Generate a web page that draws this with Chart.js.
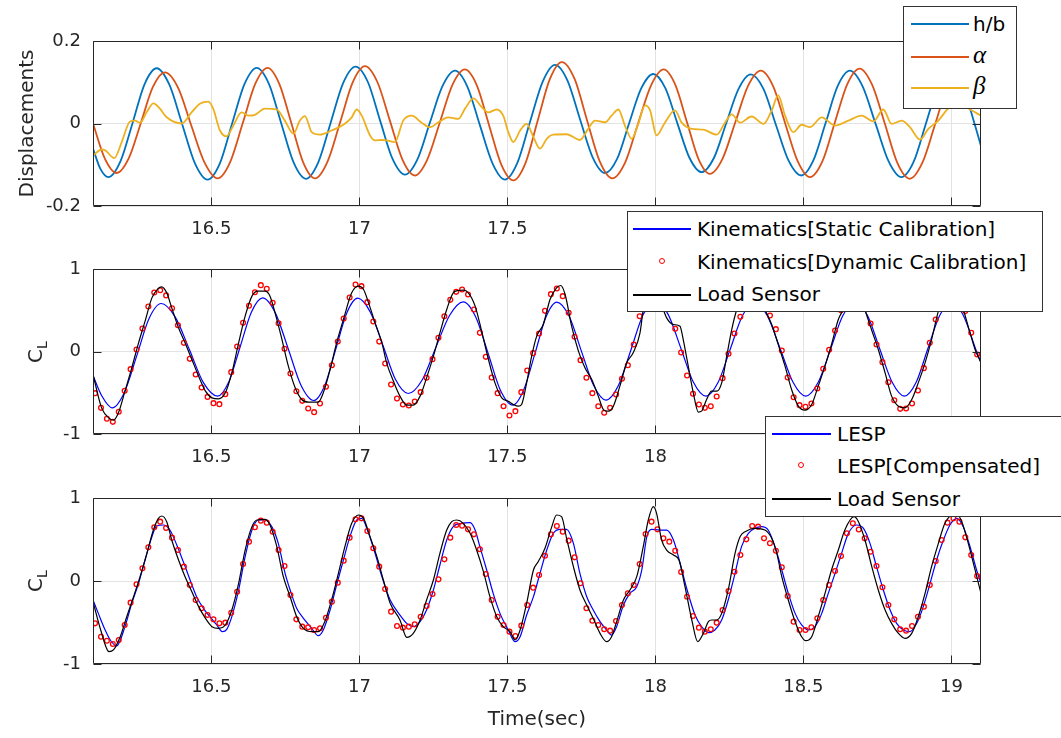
<!DOCTYPE html>
<html>
<head>
<meta charset="utf-8">
<script src="https://cdn.jsdelivr.net/npm/chart.js@4.4.0/dist/chart.umd.min.js"></script>
<style>
  body { margin: 0; background: #fff; }
  #wrap { position: relative; width: 1061px; height: 738px; overflow: hidden; font-family: 'DejaVu Sans', sans-serif; }
  .panel { position: absolute; left: 0; width: 1061px; }
  .legend { position: absolute; background: #fff; border: 1px solid #333; box-sizing: border-box; z-index: 5; }
  .sw { position: absolute; height: 2px; }
  .mk { position: absolute; width: 4px; height: 4px; border: 1.3px solid #f00; border-radius: 50%; }
  .lt { position: absolute; font-size: 20px; line-height: 24px; color: #000; white-space: nowrap; }
  .greek { font-family: 'Liberation Serif', 'DejaVu Serif', serif; font-style: italic; font-size: 25px; }
  .cl { position: absolute; width: 44px; height: 30px; line-height: 30px; text-align: center; font-size: 20px; color: #262626; transform: rotate(-90deg); z-index: 2; }
  .cl sub { font-size: 14px; vertical-align: -5px; }
</style>
</head>
<body>
<div id="wrap">
  <div class="panel" style="top:0;height:245px;"><canvas id="topChart"></canvas></div>
  <div class="panel" style="top:245px;height:230px;"><canvas id="midChart"></canvas></div>
  <div class="panel" style="top:475px;height:263px;"><canvas id="botChart"></canvas></div>

  <div class="cl" style="left:13px;top:337px;">C<sub>L</sub></div>
  <div class="cl" style="left:13px;top:566px;">C<sub>L</sub></div>

  <div class="legend" style="left:903px;top:6px;width:114px;height:103px;">
    <div class="sw" style="left:7px;top:16px;width:58px;background:#0072BD;"></div>
    <div class="lt" style="left:69px;top:5px;">h/b</div>
    <div class="sw" style="left:7px;top:49px;width:58px;background:#D95319;"></div>
    <div class="lt greek" style="left:69px;top:36px;">α</div>
    <div class="sw" style="left:7px;top:80px;width:58px;background:#EDB120;"></div>
    <div class="lt greek" style="left:69px;top:67px;">β</div>
  </div>

  <div class="legend" style="left:627px;top:211px;width:416px;height:101px;">
    <div class="sw" style="left:5px;top:16px;width:58px;height:1.5px;background:#0000ff;"></div>
    <div class="lt" style="left:69px;top:5px;">Kinematics[Static Calibration]</div>
    <div class="mk" style="left:31px;top:46px;"></div>
    <div class="lt" style="left:69px;top:38px;">Kinematics[Dynamic Calibration]</div>
    <div class="sw" style="left:5px;top:82px;width:58px;height:1.5px;background:#000;"></div>
    <div class="lt" style="left:69px;top:70px;">Load Sensor</div>
  </div>

  <div class="legend" style="left:765px;top:416px;width:300px;height:101px;">
    <div class="sw" style="left:6px;top:16px;width:59px;height:1.5px;background:#0000ff;"></div>
    <div class="lt" style="left:71px;top:5px;">LESP</div>
    <div class="mk" style="left:32px;top:45px;"></div>
    <div class="lt" style="left:71px;top:37px;">LESP[Compensated]</div>
    <div class="sw" style="left:6px;top:81px;width:59px;height:1.5px;background:#000;"></div>
    <div class="lt" style="left:71px;top:70px;">Load Sensor</div>
  </div>
</div>

<script>
// axis setup
const X_MIN = 16.1, X_MAX = 19.1;
const XTICKS = [16.5, 17, 17.5, 18, 18.5, 19];
const DISP_TICKS = [-0.2, 0, 0.2];
const CL_TICKS = [-1, 0, 1];

// top panel: displacements
const hbT = [16.100,16.125,16.152,16.193,16.234,16.274,16.315,16.358,16.401,16.444,16.487,16.529,16.570,16.612,16.653,16.695,16.736,16.778,16.819,16.861,16.903,16.945,16.987,17.029,17.070,17.112,17.154,17.196,17.238,17.281,17.323,17.365,17.407,17.450,17.492,17.534,17.576,17.619,17.661,17.703,17.745,17.788,17.830,17.871,17.911,17.952,17.993,18.034,18.074,18.115,18.156,18.198,18.239,18.281,18.322,18.365,18.407,18.450,18.493,18.534,18.575,18.616,18.657,18.700,18.744,18.788,18.831,18.873,18.914,18.956,18.997,19.037,19.078,19.100];
const hbV = [-0.061,-0.110,-0.130,-0.091,0.002,0.095,0.134,0.094,-0.001,-0.096,-0.136,-0.096,0.000,0.096,0.135,0.095,0.000,-0.095,-0.134,-0.094,0.002,0.098,0.138,0.100,0.007,-0.086,-0.124,-0.087,0.002,0.091,0.128,0.089,-0.004,-0.097,-0.136,-0.095,0.003,0.101,0.142,0.104,0.011,-0.082,-0.120,-0.085,0.000,0.085,0.120,0.085,0.001,-0.083,-0.118,-0.083,0.000,0.084,0.119,0.084,-0.003,-0.090,-0.126,-0.089,0.001,0.091,0.128,0.090,-0.001,-0.092,-0.130,-0.092,0.000,0.092,0.130,0.093,0.000,-0.055];

const alphaT = [16.100,16.140,16.180,16.221,16.262,16.302,16.343,16.388,16.432,16.477,16.521,16.563,16.606,16.648,16.690,16.730,16.770,16.810,16.850,16.892,16.935,16.977,17.019,17.061,17.103,17.145,17.187,17.229,17.272,17.314,17.356,17.397,17.438,17.479,17.520,17.561,17.602,17.643,17.684,17.727,17.769,17.812,17.854,17.898,17.941,17.985,18.028,18.067,18.106,18.145,18.184,18.227,18.270,18.313,18.356,18.398,18.439,18.481,18.522,18.564,18.606,18.648,18.690,18.732,18.775,18.817,18.859,18.902,18.945,18.987,19.030,19.065,19.100];
const alphaV = [0.000,-0.085,-0.120,-0.084,0.002,0.088,0.124,0.086,-0.005,-0.095,-0.133,-0.094,0.001,0.096,0.135,0.095,0.001,-0.094,-0.133,-0.093,0.003,0.099,0.139,0.100,0.007,-0.087,-0.126,-0.088,0.003,0.093,0.131,0.092,-0.004,-0.099,-0.138,-0.096,0.006,0.107,0.149,0.108,0.008,-0.092,-0.133,-0.094,-0.001,0.092,0.131,0.094,0.005,-0.085,-0.122,-0.085,0.003,0.091,0.128,0.090,-0.001,-0.092,-0.130,-0.092,0.002,0.095,0.133,0.094,0.000,-0.095,-0.134,-0.095,-0.002,0.091,0.130,0.100,0.035];

const betaT = [16.100,16.129,16.141,16.172,16.197,16.225,16.242,16.259,16.281,16.304,16.326,16.349,16.400,16.433,16.461,16.490,16.506,16.529,16.551,16.574,16.602,16.625,16.647,16.681,16.720,16.748,16.777,16.799,16.816,16.839,16.867,16.906,16.946,16.974,16.991,17.008,17.036,17.053,17.075,17.092,17.120,17.148,17.177,17.210,17.239,17.267,17.300,17.334,17.357,17.385,17.413,17.436,17.464,17.486,17.503,17.520,17.543,17.565,17.588,17.610,17.633,17.655,17.700,17.745,17.773,17.796,17.830,17.852,17.875,17.897,17.920,17.942,17.965,17.982,18.004,18.032,18.066,18.089,18.123,18.162,18.207,18.235,18.258,18.286,18.325,18.365,18.393,18.415,18.438,18.466,18.494,18.522,18.562,18.607,18.652,18.697,18.736,18.770,18.798,18.832,18.860,18.894,18.922,18.956,18.990,19.023,19.068,19.100];
const betaV = [-0.078,-0.063,-0.065,-0.084,-0.045,0.005,0.007,0.002,0.027,0.049,0.036,0.015,0.000,0.027,0.048,0.053,0.036,-0.017,-0.031,-0.005,0.027,0.019,0.021,0.036,0.034,0.007,-0.025,0.007,0.018,-0.021,-0.027,-0.017,-0.003,0.015,0.034,0.019,-0.029,-0.041,-0.040,-0.041,-0.045,0.007,0.019,0.002,-0.009,0.003,0.015,0.011,0.036,0.061,0.040,0.027,0.034,0.019,-0.021,-0.045,-0.017,-0.001,-0.033,-0.061,-0.037,-0.027,-0.026,-0.040,-0.013,0.007,0.003,0.019,0.034,-0.005,-0.037,-0.001,0.044,0.032,-0.029,0.002,0.032,0.002,-0.013,-0.015,-0.027,0.002,0.022,0.002,0.017,-0.001,0.032,0.068,0.019,-0.021,-0.003,-0.009,0.015,-0.005,0.007,0.019,0.005,0.034,-0.001,0.007,-0.009,-0.039,-0.013,0.007,0.037,0.048,0.032,0.019];

// middle panel: kinematics
const kinT = [16.100,16.130,16.165,16.206,16.248,16.289,16.330,16.378,16.426,16.473,16.521,16.559,16.597,16.635,16.673,16.716,16.760,16.803,16.846,16.883,16.920,16.957,16.994,17.037,17.080,17.122,17.165,17.212,17.258,17.305,17.351,17.393,17.435,17.476,17.518,17.555,17.593,17.630,17.667,17.709,17.750,17.792,17.833,17.875,17.917,17.958,18.000,18.043,18.086,18.128,18.171,18.212,18.253,18.294,18.335,18.378,18.422,18.465,18.508,18.550,18.592,18.633,18.675,18.717,18.758,18.800,18.841,18.881,18.920,18.960,19.000,19.040,19.085,19.100];
const kinV = [-0.290,-0.540,-0.683,-0.497,-0.050,0.397,0.582,0.417,0.020,-0.377,-0.541,-0.367,0.055,0.476,0.650,0.468,0.028,-0.412,-0.594,-0.412,0.026,0.464,0.646,0.477,0.069,-0.340,-0.509,-0.346,0.047,0.439,0.602,0.419,-0.024,-0.467,-0.650,-0.467,-0.026,0.415,0.598,0.424,0.004,-0.416,-0.590,-0.413,0.015,0.443,0.620,0.450,0.040,-0.370,-0.541,-0.373,0.030,0.433,0.600,0.433,0.030,-0.373,-0.541,-0.373,0.030,0.433,0.600,0.433,0.030,-0.373,-0.541,-0.373,0.030,0.433,0.600,0.440,0.000,-0.137];

const MARK_T0 = 16.107, MARK_DT = 0.02;
const kinDynV = [-0.505,-0.683,-0.816,-0.853,-0.731,-0.477,-0.214,0.024,0.279,0.545,0.715,0.743,0.680,0.525,0.319,0.105,-0.089,-0.279,-0.436,-0.550,-0.626,-0.638,-0.517,-0.250,0.061,0.347,0.554,0.719,0.804,0.760,0.590,0.343,0.032,-0.267,-0.481,-0.598,-0.691,-0.735,-0.630,-0.428,-0.166,0.121,0.400,0.655,0.812,0.792,0.598,0.364,0.120,-0.145,-0.400,-0.570,-0.642,-0.655,-0.606,-0.493,-0.319,-0.093,0.166,0.428,0.626,0.723,0.752,0.691,0.509,0.226,-0.065,-0.315,-0.505,-0.663,-0.776,-0.723,-0.493,-0.230,-0.020,0.218,0.493,0.695,0.764,0.671,0.469,0.178,-0.105,-0.319,-0.505,-0.663,-0.743,-0.683,-0.521,-0.331,-0.166,0.085,0.428,0.620,0.720,0.760,0.700,0.550,0.275,-0.012,-0.290,-0.513,-0.642,-0.683,-0.663,-0.545,-0.323,-0.028,0.218,0.420,0.600,0.720,0.740,0.620,0.436,0.271,0.012,-0.315,-0.554,-0.650,-0.671,-0.630,-0.448,-0.210,0.020,0.255,0.500,0.650,0.750,0.720,0.560,0.339,0.085,-0.129,-0.372,-0.590,-0.695,-0.691,-0.630,-0.473,-0.202,0.105,0.388,0.600,0.720,0.750,0.680,0.490,0.226,-0.036];

const loadMT = [16.100,16.129,16.157,16.169,16.186,16.208,16.231,16.254,16.276,16.299,16.319,16.332,16.349,16.366,16.389,16.411,16.434,16.457,16.480,16.502,16.524,16.547,16.569,16.592,16.614,16.637,16.657,16.681,16.698,16.715,16.737,16.760,16.783,16.805,16.828,16.861,16.878,16.901,16.923,16.946,16.974,16.997,17.014,17.031,17.053,17.076,17.092,17.115,17.137,17.160,17.182,17.205,17.227,17.250,17.272,17.295,17.317,17.334,17.351,17.368,17.391,17.413,17.436,17.458,17.481,17.503,17.520,17.537,17.548,17.565,17.582,17.599,17.621,17.644,17.666,17.680,17.695,17.717,17.740,17.762,17.785,17.807,17.826,17.841,17.858,17.880,17.903,17.925,17.948,17.959,17.975,17.995,18.012,18.027,18.038,18.061,18.083,18.094,18.111,18.128,18.145,18.156,18.173,18.190,18.207,18.224,18.241,18.258,18.275,18.300,18.325,18.350,18.370,18.393,18.415,18.438,18.460,18.483,18.505,18.528,18.550,18.573,18.595,18.618,18.635,18.660,18.680,18.695,18.708,18.730,18.753,18.776,18.798,18.821,18.843,18.866,18.888,18.911,18.933,18.956,18.980,19.000,19.020,19.040,19.063,19.080,19.100];
const loadMV = [-0.279,-0.683,-0.816,-0.832,-0.743,-0.481,-0.198,0.105,0.368,0.650,0.760,0.784,0.711,0.529,0.287,0.105,-0.097,-0.299,-0.481,-0.562,-0.574,-0.501,-0.259,0.105,0.428,0.671,0.731,0.731,0.671,0.469,0.166,-0.178,-0.440,-0.582,-0.614,-0.614,-0.501,-0.218,0.105,0.388,0.711,0.792,0.752,0.590,0.347,0.105,-0.137,-0.360,-0.541,-0.650,-0.650,-0.541,-0.319,-0.057,0.226,0.509,0.711,0.739,0.743,0.711,0.550,0.246,-0.097,-0.380,-0.562,-0.602,-0.642,-0.663,-0.642,-0.380,-0.057,0.186,0.327,0.630,0.772,0.800,0.691,0.307,0.004,-0.198,-0.339,-0.541,-0.711,-0.723,-0.663,-0.420,-0.137,-0.016,0.226,0.509,0.720,0.800,0.700,0.509,0.408,0.327,0.307,0.145,-0.178,-0.501,-0.735,-0.723,-0.582,-0.481,-0.481,-0.380,-0.057,0.267,0.509,0.700,0.760,0.680,0.509,0.327,0.085,-0.178,-0.461,-0.663,-0.711,-0.642,-0.420,-0.178,0.085,0.388,0.509,0.720,0.760,0.680,0.509,0.267,0.024,-0.259,-0.541,-0.663,-0.683,-0.582,-0.380,-0.137,0.145,0.489,0.720,0.780,0.700,0.509,0.226,0.024,-0.137];

// bottom panel: LESP
const lespT = [16.100,16.118,16.141,16.160,16.180,16.208,16.231,16.254,16.276,16.299,16.315,16.338,16.360,16.383,16.405,16.428,16.450,16.473,16.495,16.518,16.537,16.552,16.569,16.592,16.614,16.637,16.659,16.681,16.704,16.726,16.749,16.766,16.788,16.811,16.839,16.861,16.878,16.901,16.923,16.946,16.968,16.991,17.008,17.031,17.053,17.076,17.104,17.137,17.160,17.182,17.205,17.227,17.250,17.272,17.295,17.317,17.345,17.374,17.391,17.407,17.430,17.452,17.475,17.503,17.526,17.543,17.565,17.588,17.610,17.633,17.655,17.678,17.700,17.723,17.745,17.768,17.790,17.813,17.835,17.852,17.869,17.892,17.914,17.937,17.954,17.971,17.987,18.015,18.038,18.061,18.083,18.105,18.134,18.156,18.179,18.201,18.224,18.246,18.269,18.291,18.314,18.336,18.359,18.381,18.404,18.427,18.449,18.472,18.494,18.517,18.539,18.562,18.584,18.607,18.629,18.652,18.680,18.703,18.725,18.747,18.770,18.793,18.815,18.838,18.860,18.883,18.905,18.928,18.950,18.973,18.995,19.018,19.040,19.063,19.085,19.100];
const lespV = [-0.229,-0.390,-0.590,-0.720,-0.783,-0.550,-0.269,-0.028,0.253,0.534,0.663,0.675,0.614,0.434,0.233,0.012,-0.189,-0.329,-0.430,-0.530,-0.610,-0.582,-0.430,-0.108,0.293,0.614,0.735,0.735,0.655,0.454,0.092,-0.108,-0.329,-0.450,-0.570,-0.659,-0.590,-0.349,-0.048,0.253,0.534,0.735,0.755,0.574,0.333,0.052,-0.229,-0.410,-0.510,-0.550,-0.490,-0.349,-0.108,0.193,0.494,0.655,0.695,0.703,0.614,0.414,0.133,-0.149,-0.390,-0.590,-0.731,-0.671,-0.410,-0.189,0.092,0.373,0.574,0.622,0.622,0.454,0.092,-0.189,-0.349,-0.490,-0.590,-0.651,-0.550,-0.289,-0.149,-0.068,0.133,0.534,0.622,0.614,0.614,0.494,0.220,-0.080,-0.410,-0.550,-0.622,-0.590,-0.470,-0.229,0.092,0.414,0.574,0.635,0.655,0.614,0.414,0.133,-0.149,-0.390,-0.530,-0.590,-0.550,-0.390,-0.149,0.092,0.333,0.574,0.675,0.635,0.454,0.173,-0.108,-0.349,-0.510,-0.590,-0.610,-0.510,-0.309,-0.028,0.253,0.494,0.675,0.755,0.655,0.414,0.133,-0.028];

const lespCompV = [-0.510,-0.671,-0.719,-0.759,-0.711,-0.530,-0.261,-0.040,0.153,0.406,0.647,0.715,0.639,0.522,0.373,0.173,-0.048,-0.229,-0.329,-0.410,-0.462,-0.510,-0.502,-0.382,-0.129,0.205,0.474,0.647,0.727,0.703,0.594,0.373,0.181,-0.169,-0.462,-0.550,-0.558,-0.590,-0.570,-0.442,-0.249,-0.020,0.245,0.522,0.743,0.755,0.602,0.394,0.173,-0.096,-0.369,-0.542,-0.562,-0.550,-0.522,-0.430,-0.301,-0.157,0.020,0.261,0.522,0.675,0.667,0.622,0.562,0.382,0.084,-0.229,-0.430,-0.530,-0.610,-0.663,-0.538,-0.289,-0.080,0.072,0.305,0.562,0.663,0.594,0.486,0.285,-0.028,-0.329,-0.478,-0.530,-0.582,-0.598,-0.482,-0.289,-0.149,-0.048,0.205,0.566,0.715,0.622,0.514,0.474,0.365,0.108,-0.189,-0.422,-0.562,-0.610,-0.582,-0.502,-0.349,-0.120,0.112,0.313,0.502,0.663,0.655,0.514,0.454,0.365,0.165,-0.181,-0.490,-0.590,-0.590,-0.558,-0.450,-0.229,-0.048,0.120,0.300,0.574,0.695,0.620,0.514,0.353,0.181,-0.076,-0.289,-0.462,-0.582,-0.598,-0.542,-0.430,-0.309,-0.048,0.241,0.494,0.703,0.755,0.715,0.526,0.313,0.060];

const loadBT = [16.100,16.126,16.154,16.169,16.192,16.214,16.237,16.259,16.282,16.304,16.321,16.332,16.349,16.366,16.389,16.411,16.434,16.457,16.480,16.502,16.524,16.547,16.569,16.592,16.614,16.637,16.654,16.681,16.698,16.721,16.743,16.766,16.788,16.811,16.839,16.861,16.883,16.906,16.929,16.951,16.974,16.997,17.014,17.036,17.059,17.081,17.104,17.137,17.160,17.182,17.205,17.227,17.250,17.272,17.295,17.312,17.329,17.351,17.374,17.396,17.419,17.441,17.464,17.486,17.509,17.526,17.543,17.565,17.588,17.604,17.627,17.650,17.666,17.683,17.700,17.723,17.745,17.768,17.790,17.813,17.835,17.852,17.869,17.892,17.914,17.937,17.959,17.976,17.993,18.004,18.021,18.038,18.061,18.080,18.100,18.123,18.143,18.162,18.179,18.190,18.207,18.224,18.246,18.269,18.286,18.303,18.336,18.370,18.393,18.410,18.427,18.449,18.472,18.494,18.508,18.528,18.550,18.573,18.595,18.618,18.640,18.671,18.686,18.708,18.731,18.753,18.776,18.798,18.821,18.843,18.866,18.888,18.911,18.933,18.956,18.978,19.001,19.018,19.035,19.057,19.080,19.100];
const loadBV = [-0.250,-0.590,-0.851,-0.831,-0.671,-0.430,-0.189,0.052,0.333,0.614,0.755,0.783,0.715,0.494,0.253,0.052,-0.129,-0.309,-0.450,-0.550,-0.570,-0.530,-0.349,-0.028,0.373,0.655,0.735,0.743,0.675,0.414,0.052,-0.189,-0.430,-0.570,-0.610,-0.610,-0.490,-0.229,0.092,0.414,0.695,0.795,0.755,0.534,0.293,0.012,-0.269,-0.470,-0.679,-0.631,-0.470,-0.229,0.012,0.333,0.614,0.715,0.735,0.695,0.574,0.373,0.112,-0.189,-0.430,-0.550,-0.610,-0.711,-0.590,-0.269,0.133,0.233,0.394,0.655,0.795,0.775,0.514,0.173,-0.108,-0.289,-0.450,-0.631,-0.731,-0.671,-0.490,-0.229,-0.108,0.052,0.414,0.735,0.896,0.815,0.494,0.373,0.313,0.250,-0.068,-0.470,-0.731,-0.631,-0.490,-0.470,-0.470,-0.390,-0.108,0.333,0.534,0.594,0.635,0.614,0.514,0.333,0.052,-0.229,-0.490,-0.671,-0.719,-0.671,-0.430,-0.149,0.133,0.373,0.614,0.775,0.715,0.494,0.173,-0.108,-0.349,-0.510,-0.631,-0.691,-0.631,-0.430,-0.149,0.173,0.454,0.695,0.795,0.807,0.715,0.454,0.133,-0.149];

// styling
const TXT = '#262626';
const GRID = '#e3e3e3';
const TICK_LEN = 8;
const TICK_FONT = { family: 'DejaVu Sans', size: 18 };
const TITLE_FONT = { family: 'DejaVu Sans', size: 20 };

function pts(ts, vs) {
    return ts.map((t, i) => ({ x: t, y: vs[i] }));
}

function markerPts(vs) {
    return vs.map((v, i) => ({ x: MARK_T0 + i * MARK_DT, y: v }));
}

// MATLAB-like box with inward ticks
const boxPlugin = {
    id: 'matlabBox',
    afterDatasetsDraw(chart) {
        const { ctx, chartArea: a, scales } = chart;
        const L = Math.round(a.left) + 0.5, R = Math.round(a.right) - 0.5;
        const T = Math.round(a.top) + 0.5, B = Math.round(a.bottom) - 0.5;
        ctx.save();
        ctx.strokeStyle = TXT;
        ctx.lineWidth = 1;
        ctx.beginPath();
        XTICKS.forEach(v => {
            const px = Math.round(scales.x.getPixelForValue(v)) + 0.5;
            ctx.moveTo(px, B); ctx.lineTo(px, B - TICK_LEN);
            ctx.moveTo(px, T); ctx.lineTo(px, T + TICK_LEN);
        });
        scales.y.ticks.forEach(t => {
            const py = Math.round(scales.y.getPixelForValue(t.value)) + 0.5;
            ctx.moveTo(L, py); ctx.lineTo(L + TICK_LEN, py);
            ctx.moveTo(R, py); ctx.lineTo(R - TICK_LEN, py);
        });
        ctx.rect(L, T, R - L, B - T);
        ctx.stroke();
        ctx.restore();
    }
};

function makeChart(id, datasets, yTicks, padTop, xHeight, yTitle, xTitle) {
    return new Chart(document.getElementById(id), {
        type: 'line',
        data: { datasets: datasets },
        options: {
            responsive: true,
            maintainAspectRatio: false,
            animation: false,
            events: [],
            layout: { padding: { top: padTop, right: 80, left: 0, bottom: 0 } },
            elements: {
                point: { radius: 0 },
                line: { cubicInterpolationMode: 'monotone', borderWidth: 1.2 }
            },
            plugins: {
                legend: { display: false },
                tooltip: { enabled: false }
            },
            scales: {
                x: {
                    type: 'linear',
                    min: X_MIN,
                    max: X_MAX,
                    afterBuildTicks: s => { s.ticks = XTICKS.map(v => ({ value: v })); },
                    afterFit: s => { s.height = xHeight; },
                    grid: { color: GRID, drawTicks: false },
                    border: { display: false },
                    ticks: { padding: 13, color: TXT, font: TICK_FONT, maxRotation: 0, autoSkip: false, callback: v => String(v) },
                    title: xTitle
                        ? { display: true, text: xTitle, color: TXT, font: TITLE_FONT, padding: { top: 0, bottom: 6 } }
                        : { display: false }
                },
                y: {
                    type: 'linear',
                    min: yTicks[0],
                    max: yTicks[yTicks.length - 1],
                    afterBuildTicks: s => { s.ticks = yTicks.map(v => ({ value: v })); },
                    afterFit: s => { s.width = 93; },
                    grid: { color: GRID, drawTicks: false },
                    border: { display: false },
                    ticks: { padding: 12, color: TXT, font: TICK_FONT, callback: v => String(v) },
                    title: yTitle
                        ? { display: true, text: yTitle, color: TXT, font: TITLE_FONT, padding: { top: 16, bottom: 0 } }
                        : { display: false }
                }
            }
        },
        plugins: [boxPlugin]
    });
}

document.addEventListener('DOMContentLoaded', function () {
    makeChart('topChart', [
        { label: 'h/b', data: pts(hbT, hbV), borderColor: '#0072BD', borderWidth: 1.8, order: 3 },
        { label: 'α', data: pts(alphaT, alphaV), borderColor: '#D95319', borderWidth: 1.8, order: 2 },
        { label: 'β', data: pts(betaT, betaV), borderColor: '#EDB120', borderWidth: 1.8, order: 1 }
    ], DISP_TICKS, 41, 39, 'Displacements', null);

    const marker = { showLine: false, pointRadius: 2.4, pointBorderWidth: 1.3, pointBorderColor: '#ff0000', pointBackgroundColor: 'rgba(0,0,0,0)', order: 2 };

    makeChart('midChart', [
        { label: 'Kinematics[Static Calibration]', data: pts(kinT, kinV), borderColor: '#0000ff', order: 3 },
        Object.assign({ label: 'Kinematics[Dynamic Calibration]', data: markerPts(kinDynV) }, marker),
        { label: 'Load Sensor', data: pts(loadMT, loadMV), borderColor: '#000000', order: 1 }
    ], CL_TICKS, 24, 41, null, null);

    makeChart('botChart', [
        { label: 'LESP', data: pts(lespT, lespV), borderColor: '#0000ff', order: 3 },
        Object.assign({ label: 'LESP[Compensated]', data: markerPts(lespCompV) }, marker),
        { label: 'Load Sensor', data: pts(loadBT, loadBV), borderColor: '#000000', order: 1 }
    ], CL_TICKS, 23, 74, null, 'Time(sec)');
});
</script>
</body>
</html>
